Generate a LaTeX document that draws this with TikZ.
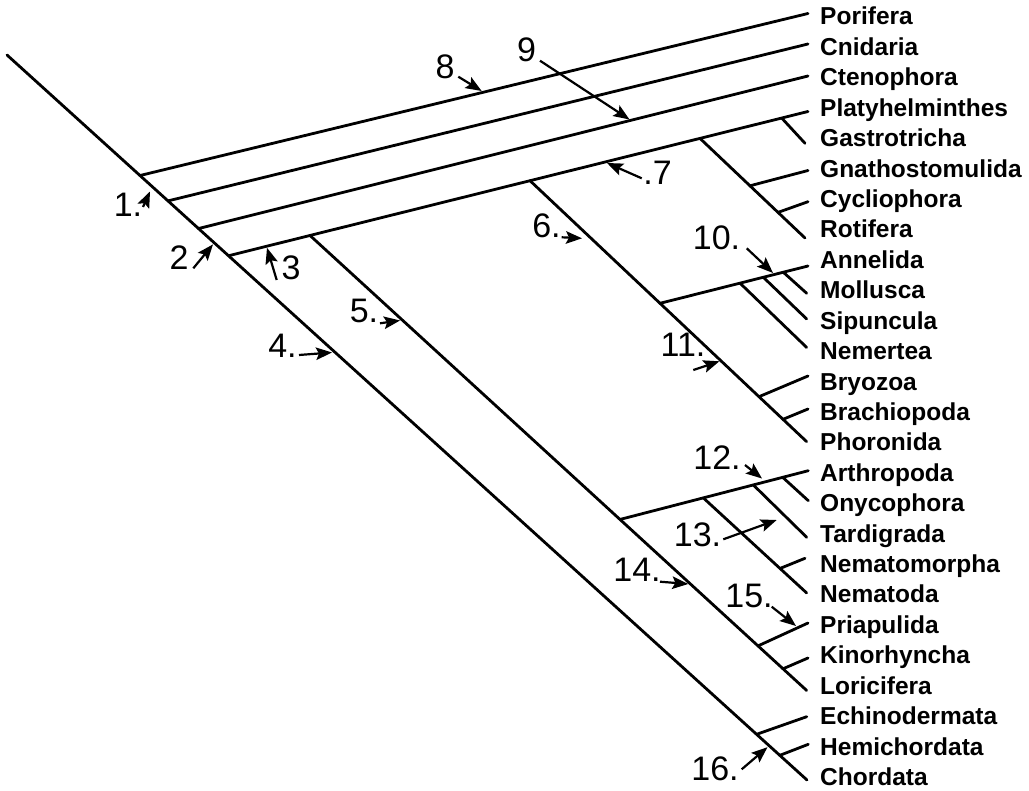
\documentclass[tikz,border=0pt]{standalone}
\usepackage{fontspec}
\setmainfont{Liberation Sans}
\usetikzlibrary{calc,arrows.meta}
\begin{document}
\begin{tikzpicture}[x=1pt,y=-1pt,
  branch/.style={line width=2.8pt, line cap=round},
  marker/.style={line width=2.2pt, -{Stealth[length=16pt,width=12.5pt,inset=3pt]}},
  taxon/.style={anchor=base west, inner sep=0pt, font=\fontsize{24.5}{24.5}\selectfont\bfseries},
  num/.style={anchor=base, inner sep=0pt, font=\fontsize{34}{34}\selectfont}]
\path[use as bounding box, fill=white] (0,0) rectangle (1029,791);

% ---- taxon labels ----
\foreach \name/\txt [count=\i from 0] in {Por/Porifera, Cni/Cnidaria, Cte/Ctenophora, Pla/Platyhelminthes, Gas/Gastrotricha, Gna/Gnathostomulida, Cyc/Cycliophora, Rot/Rotifera, Ann/Annelida, Mol/Mollusca, Sip/Sipuncula, Nem/Nemertea, Bry/Bryozoa, Bra/Brachiopoda, Pho/Phoronida, Art/Arthropoda, Ony/Onycophora, Tar/Tardigrada, Nmm/Nematomorpha, Nemd/Nematoda, Pri/Priapulida, Kin/Kinorhyncha, Lor/Loricifera, Ech/Echinodermata, Hem/Hemichordata, Cho/Chordata}
  \node[taxon] (L\name) at (820,{25+30.42*\i}) {\txt};

% ---- line ends ----
\coordinate (root) at (7,55);
\coordinate (eCho) at (807,780);
\coordinate (ePor) at (808,13.5);
\coordinate (eCni) at (808,44);
\coordinate (eCte) at (808,76);
\coordinate (ePla) at (808,111.5);
\coordinate (eGas) at (805,143.3);
\coordinate (eGna) at (808,170.5);
\coordinate (eCyc) at (808,201.7);
\coordinate (eRot) at (805,238);
\coordinate (eAnn) at (808,266);
\coordinate (eMol) at (806.7,293.3);
\coordinate (eSip) at (806.7,319);
\coordinate (eNem) at (806.7,347.5);
\coordinate (eBry) at (808,376);
\coordinate (eBra) at (808,409);
\coordinate (ePho) at (806.7,441.7);
\coordinate (eArt) at (808.3,470.7);
\coordinate (eOny) at (808.3,500.7);
\coordinate (eTar) at (806.7,537.3);
\coordinate (eNmm) at (805,558.3);
\coordinate (eNemd) at (806.7,593);
\coordinate (ePri) at (808,623);
\coordinate (eKin) at (808,658);
\coordinate (eLor) at (806.7,690.5);
\coordinate (eEch) at (806.7,716.7);
\coordinate (eHem) at (808.3,744.3);

% ---- junctions ----
\coordinate (J1) at ($(root)!0.16625!(eCho)$);
\coordinate (J2) at ($(root)!0.20125!(eCho)$);
\coordinate (J3) at ($(root)!0.2394!(eCho)$);
\coordinate (J4) at ($(root)!0.2769!(eCho)$);
\coordinate (JEch) at ($(root)!0.937!(eCho)$);
\coordinate (JHem) at ($(root)!0.966!(eCho)$);
\coordinate (J5) at ($(J4)!0.1406!(ePla)$);
\coordinate (J6) at ($(J4)!0.5203!(ePla)$);
\coordinate (JRot) at ($(J4)!0.8136!(ePla)$);
\coordinate (JGas) at ($(J4)!0.9546!(ePla)$);
\coordinate (JGna) at ($(JRot)!0.476!(eRot)$);
\coordinate (JCyc) at ($(JRot)!0.743!(eRot)$);
\coordinate (JAnn) at ($(J6)!0.4698!(ePho)$);
\coordinate (JBry) at ($(J6)!0.8276!(ePho)$);
\coordinate (JBra) at ($(J6)!0.9143!(ePho)$);
\coordinate (JNem) at ($(JAnn)!0.5405!(eAnn)$);
\coordinate (JSip) at ($(JAnn)!0.698!(eAnn)$);
\coordinate (JMol) at ($(JAnn)!0.833!(eAnn)$);
\coordinate (JArt) at ($(J5)!0.6241!(eLor)$);
\coordinate (JPri) at ($(J5)!0.902!(eLor)$);
\coordinate (JKin) at ($(J5)!0.9523!(eLor)$);
\coordinate (JNemd) at ($(JArt)!0.4424!(eArt)$);
\coordinate (JTar) at ($(JArt)!0.708!(eArt)$);
\coordinate (JOny) at ($(JArt)!0.864!(eArt)$);
\coordinate (JNmm) at ($(JNemd)!0.742!(eNemd)$);

% ---- branches ----
\draw[branch] (root) -- (eCho);
\draw[branch] (J1) -- (ePor);
\draw[branch] (J2) -- (eCni);
\draw[branch] (J3) -- (eCte);
\draw[branch] (J4) -- (ePla);
\draw[branch] (JGas) -- (eGas);
\draw[branch] (JRot) -- (eRot);
\draw[branch] (JGna) -- (eGna);
\draw[branch] (JCyc) -- (eCyc);
\draw[branch] (J6) -- (ePho);
\draw[branch] (JAnn) -- (eAnn);
\draw[branch] (JMol) -- (eMol);
\draw[branch] (JSip) -- (eSip);
\draw[branch] (JNem) -- (eNem);
\draw[branch] (JBry) -- (eBry);
\draw[branch] (JBra) -- (eBra);
\draw[branch] (J5) -- (eLor);
\draw[branch] (JArt) -- (eArt);
\draw[branch] (JOny) -- (eOny);
\draw[branch] (JTar) -- (eTar);
\draw[branch] (JNemd) -- (eNemd);
\draw[branch] (JNmm) -- (eNmm);
\draw[branch] (JPri) -- (ePri);
\draw[branch] (JKin) -- (eKin);
\draw[branch] (JEch) -- (eEch);
\draw[branch] (JHem) -- (eHem);

% ---- numbered markers ----
\node[num] (n1) at (128,216.7) {1.};
\node[num] (n2) at (179,270) {2};
\node[num] (n3) at (291,280) {3};
\node[num] (n4) at (282.5,358) {4.};
\node[num] (n5) at (364,323) {5.};
\node[num] (n6) at (546.5,238) {6.};
\node[num] (n7) at (657.5,185) {.7};
\node[num] (n8) at (445,78.3) {8};
\node[num] (n9) at (526.5,61.7) {9};
\node[num] (n10) at (716.5,250) {10.};
\node[num] (n11) at (683,357) {11.};
\node[num] (n12) at (717,470) {12.};
\node[num] (n13) at (697.5,547) {13.};
\node[num] (n14) at (637,582) {14.};
\node[num] (n15) at (749,608) {15.};
\node[num] (n16) at (715,780) {16.};

\coordinate (t1) at (143,207);     \coordinate (a1) at (150,191.5);
\coordinate (t2) at (193.3,268.3); \coordinate (a2) at (213,244.4);
\coordinate (t3) at (276.7,280);   \coordinate (a3) at (267,247.8);
\coordinate (t4) at (299,355);     \coordinate (a4) at (332,352.5);
\coordinate (t5) at (380,323.3);   \coordinate (a5) at (400,320.5);
\coordinate (t6) at (561.7,237.3); \coordinate (a6) at (582,238.3);
\coordinate (t7) at (641.7,178.3); \coordinate (a7) at (607,163);
\coordinate (t8) at (458.3,76.7);  \coordinate (a8) at (481.7,91);
\coordinate (t9) at (540,60.7);    \coordinate (a9) at (629.5,119.5);
\coordinate (t10) at (746.7,248.3); \coordinate (a10) at (773,273);
\coordinate (t11) at (693.3,370);  \coordinate (a11) at (719.4,361.3);
\coordinate (t12) at (745,465);    \coordinate (a12) at (762,478.5);
\coordinate (t13) at (723.3,539.3); \coordinate (a13) at (776.7,520);
\coordinate (t14) at (660,581.7);  \coordinate (a14) at (688.3,584);
\coordinate (t15) at (771.7,606.7); \coordinate (a15) at (796,626);
\coordinate (t16) at (741.7,769.3); \coordinate (a16) at (767.5,747.2);

\foreach \k in {1,...,16} \draw[marker] (t\k) -- (a\k);
\end{tikzpicture}
\end{document}
